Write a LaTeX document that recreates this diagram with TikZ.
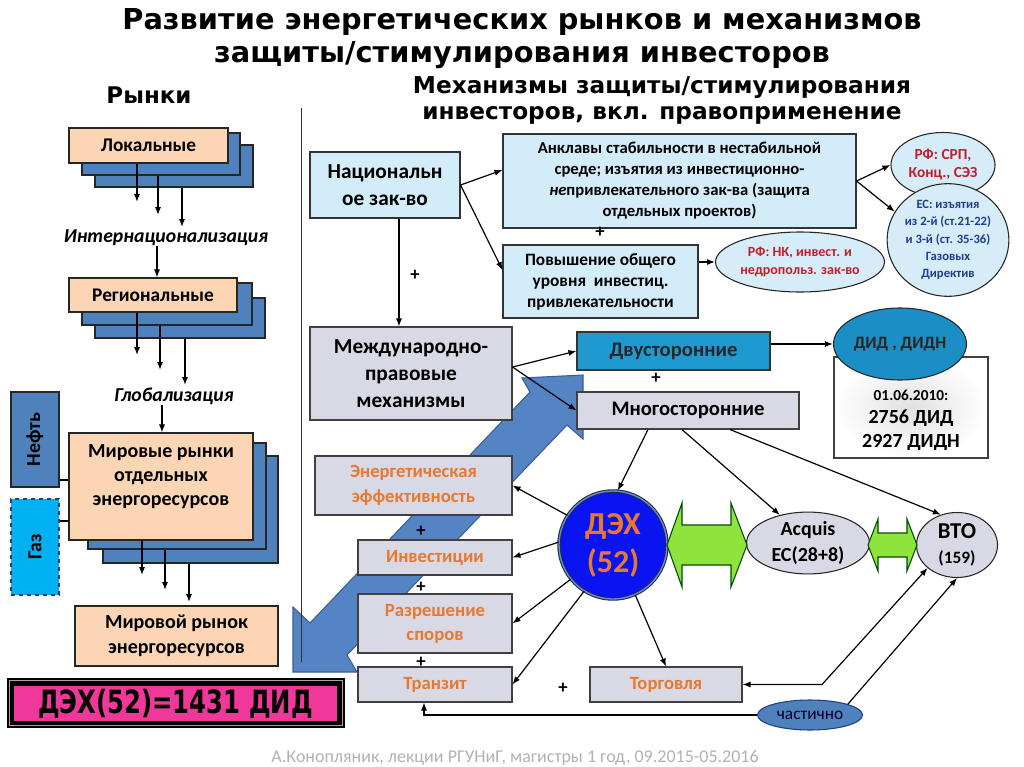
\documentclass[tikz,border=0pt]{standalone}
\usepackage{fontspec}
\setmainfont{Carlito}
\newfontfamily\dv{DejaVu Sans}
\usetikzlibrary{arrows.meta,shapes.geometric,calc}
\definecolor{tanc}{HTML}{FCD5B4}
\definecolor{stackc}{HTML}{4F81BD}
\definecolor{lblue}{HTML}{D3ECFA}
\definecolor{lellc}{HTML}{D6ECF8}
\definecolor{lav}{HTML}{D9D9E6}
\definecolor{tealb}{HTML}{1E9AD0}
\definecolor{didc}{HTML}{1B8EC5}
\definecolor{orng}{HTML}{E9782F}
\definecolor{dred}{HTML}{C0202A}
\definecolor{dblue}{HTML}{1F3E8C}
\definecolor{dexb}{HTML}{0A14F0}
\definecolor{limeg}{HTML}{8EE43C}
\definecolor{pinkc}{HTML}{F0389A}
\definecolor{gasc}{HTML}{00B0F0}
\definecolor{arrb}{HTML}{5584C4}
\definecolor{arrbd}{HTML}{3B5E8E}
\begin{document}
\begin{tikzpicture}[x=0.75pt,y=-0.75pt,
  every node/.style={inner sep=0pt},
  rbox/.style n args={4}{minimum width={(#3-#1)*0.75pt}, minimum height={(#4-#2)*0.75pt}, at={({(#1+#3)/2},{(#2+#4)/2})}},
  arr/.style={-{Latex[length=6pt,width=4.6pt]}, line width=0.9pt},
  darr/.style={{Latex[length=6pt,width=4.6pt]}-{Latex[length=6pt,width=4.6pt]}, line width=0.9pt},
  ln/.style={line width=0.9pt},
  stack/.style={draw=black!85, fill=stackc, line width=0.8pt},
  tanbox/.style={draw=black!85, fill=tanc, line width=0.8pt, align=center, font=\bfseries\fontsize{14.5}{18}\selectfont},
  lbbox/.style={draw=black!80, fill=lblue, line width=0.8pt, align=center},
  lavbox/.style={draw=black!75, fill=lav, line width=0.8pt, align=center},
  obox/.style={lavbox, text=orng, font=\bfseries\fontsize{14}{18.5}\selectfont},
  ell/.style={ellipse, draw=black!85, line width=0.8pt, align=center},
  ital/.style={font=\bfseries\itshape\fontsize{14.8}{17}\selectfont},
  plus/.style={font=\bfseries\fontsize{14}{16}\selectfont},
  greenarr/.style={fill=limeg, draw=black!70!green, line width=0.8pt},
]
\useasboundingbox (0,0) rectangle (1024,767);
\fill[white] (0,0) rectangle (1024,767);

% titles
\node[font=\dv\bfseries\fontsize{21.6}{25}\selectfont] (t1) at (522,22) {Развитие энергетических рынков и механизмов};
\node[font=\dv\bfseries\fontsize{21.6}{25}\selectfont] (t2) at (522,55) {защиты/стимулирования инвесторов};
\node[font=\dv\bfseries\fontsize{17.2}{20}\selectfont] (hm) at (149,95) {Рынки};
\node[font=\dv\bfseries\fontsize{17.4}{19.5}\selectfont, align=center] (hr) at (662,100) {Механизмы защиты/стимулирования\\инвесторов, вкл. правоприменение};

% ---------- left column ----------
\node[stack, rbox={95}{145}{253}{187}] (lok3) {};
\node[stack, rbox={82}{133}{240}{175}] (lok2) {};
\node[tanbox, rbox={69}{128}{228}{163}] (lok) {Локальные};
\coordinate (la1) at (137,202);
\coordinate (la2) at (158,215);
\coordinate (la3) at (182,227);
\draw[arr] (lok.south -| la1) -- (la1);
\draw[arr] (lok2.south -| la2) -- (la2);
\draw[arr] (lok3.south -| la3) -- (la3);
\node[ital] (intl) at (166,238) {Интернационализация};

\node[stack, rbox={95}{298}{265}{338}] (reg3) {};
\node[stack, rbox={82}{283}{252}{325}] (reg2) {};
\node[tanbox, rbox={69}{278}{237}{312}] (reg) {Региональные};
\draw[arr] (intl.south -| 157,0) -- (reg.north -| 157,0);
\coordinate (ra1) at (137,355);
\coordinate (ra2) at (160,370);
\coordinate (ra3) at (185,385);
\draw[arr] (reg.south -| ra1) -- (ra1);
\draw[arr] (reg2.south -| ra2) -- (ra2);
\draw[arr] (reg3.south -| ra3) -- (ra3);
\node[ital] (glob) at (174,396) {Глобализация};

\node[stack, rbox={103}{456}{278}{563}] (mir3) {};
\node[stack, rbox={88}{443}{266}{549}] (mir2) {};
\node[tanbox, rbox={69}{433}{253}{540}, font=\bfseries\fontsize{15}{18}\selectfont, text depth=17pt] (mir) {Мировые рынки\\отдельных\\энергоресурсов};
\draw[arr] (glob.south -| 162,0) -- (mir.north -| 162,0);
\coordinate (ma1) at (142,575);
\coordinate (ma2) at (165,590);
\coordinate (ma3) at (189,602);
\draw[arr] (mir.south -| ma1) -- (ma1);
\draw[arr] (mir2.south -| ma2) -- (ma2);
\draw[arr] (mir3.south -| ma3) -- (ma3);

\node[draw=black!85, fill=stackc, line width=0.8pt, rbox={11}{392}{59}{487}] (neft) {};
\node[rotate=90, font=\bfseries\fontsize{15}{18}\selectfont] (neftt) at (neft.center) {Нефть};
\node[draw=dblue, dashed, fill=gasc, line width=0.9pt, rbox={11}{499}{59}{595}] (gaz) {};
\node[rotate=90, font=\bfseries\fontsize{15}{18}\selectfont] (gazt) at (gaz.center) {Газ};
\draw[ln] (neft.east |- 0,480) -- (mir.west |- 0,480);
\draw[ln] (gaz.east |- 0,521) -- (mir.west |- 0,521);

\node[tanbox, rbox={75}{606}{278}{666}, font=\bfseries\fontsize{15}{18.5}\selectfont] (mirr) {Мировой рынок\\энергоресурсов};

\node[fill=black, rbox={7}{678}{345}{728}] (dexframe) {};
\draw[gray!70, line width=0.6pt] ($(dexframe.south west)+(2.5,-2.5)$) rectangle ($(dexframe.north east)+(-2.5,2.5)$);
\node[fill=pinkc, draw=black, line width=0.8pt, rbox={13}{685}{338}{722}, font=\dv\bfseries\fontsize{24}{28}\selectfont] (dexeq) {\scalebox{0.76}[1]{ДЭХ(52)=1431 ДИД}};

% ---------- big double arrow ----------
\draw[fill=arrb, draw=arrbd, line width=0.8pt] (583,375) -- (583,439) -- (567,425) -- (347,655) -- (357,672) -- (293,672) -- (293,607) -- (310,623) -- (530,392) -- (522,378) -- cycle;

% separator
\coordinate (sep1) at (301,108);
\coordinate (sep2) at (301,662);
\draw[line width=0.7pt, black!80] (sep1) -- (sep2);

% ---------- right part ----------
\node[lbbox, rbox={310}{152}{460}{218}, font=\bfseries\fontsize{16}{20}\selectfont] (nat) {Национальн\\ое зак-во};
\node[lbbox, rbox={503}{134}{856}{228}, font=\bfseries\fontsize{12.5}{15.75}\selectfont] (ankl) {Анклавы стабильности в нестабильной\\среде; изъятия из инвестиционно-\\\textit{не}привлекательного зак-ва (защита\\отдельных проектов)};
\node[lbbox, rbox={503}{245}{698}{318}, font=\bfseries\fontsize{13}{15.75}\selectfont] (pov) {Повышение общего\\уровня~~инвестиц.\\привлекательности};
\node[ell, fill=lellc, text=dred, minimum width=116.25pt, minimum height=45pt, font=\bfseries\fontsize{10.5}{13.5}\selectfont] (rfnk) at (800,262) {РФ: НК, инвест. и\\недропольз. зак-во};
\node[ell, fill=lellc, text=dred, minimum width=78pt, minimum height=48.75pt, font=\bfseries\fontsize{11.5}{13.5}\selectfont] (rfsrp) at (943,165) {РФ: СРП,\\Конц., СЭЗ};
\node[ell, fill=lellc, text=dblue, minimum width=87.75pt, minimum height=78pt, font=\bfseries\fontsize{9.5}{13}\selectfont] (es) at (948,240) {ЕС: изъятия\\из 2-й (ст.21-22)\\и 3-й (ст. 35-36)\\Газовых\\Директив};

\node[lavbox, rbox={310}{327}{512}{420}, font=\bfseries\fontsize{16}{20.5}\selectfont] (mezh) {Международно-\\правовые\\механизмы};
\node[draw=black!80, fill=tealb, line width=0.8pt, rbox={577}{332}{770}{370}, font=\bfseries\fontsize{15.5}{18}\selectfont, text=black!85] (dvu) {Двусторонние};
\node[lavbox, rbox={577}{392}{799}{429}, font=\bfseries\fontsize{15.5}{18}\selectfont] (mnogo) {Многосторонние};

\node[draw=black!75, line width=0.8pt, inner color=black!12, outer color=white, rbox={834}{357}{988}{458}] (didbox) {};
\node[align=center, font=\bfseries\fontsize{15}{17.5}\selectfont] (didt) at (911,420) {{\fontsize{11.5}{14}\selectfont 01.06.2010:}\\2756 ДИД\\2927 ДИДН};
\node[ell, fill=didc, minimum width=99.75pt, minimum height=54pt, font=\bfseries\fontsize{13}{16}\selectfont, text=black!85] (did) at (900,344) {ДИД , ДИДН};

\node[obox, rbox={315}{456}{512}{515}] (energ) {Энергетическая\\эффективность};
\node[obox, rbox={358}{540}{512}{575}] (invest) {Инвестиции};
\node[obox, rbox={358}{594}{512}{653}, font=\bfseries\fontsize{14}{18}\selectfont] (razr) {Разрешение\\споров};
\node[obox, rbox={358}{667}{512}{702}] (tranz) {Транзит};
\node[obox, rbox={590}{667}{742}{702}] (torg) {Торговля};

\node[circle, draw=dblue!70!black, double=dblue!60, double distance=1pt, line width=0.8pt, fill=dexb, minimum size=81pt, align=center, text=orng, font=\bfseries\fontsize{24}{28.5}\selectfont] (dex) at (613,545) {ДЭХ\\(52)};
\node[ell, fill=lav, minimum width=92.25pt, minimum height=45.75pt, font=\bfseries\fontsize{15}{20}\selectfont] (acq) at (808,543) {Acquis\\ЕС(28+8)};
\node[ell, fill=lav, minimum width=60.75pt, minimum height=48.75pt, font=\bfseries\fontsize{17}{20}\selectfont] (vto) at (957,545) {ВТО\\[-1pt]{\fontsize{13}{15}\selectfont (159)}};
\node[ell, fill=stackc, draw=dblue, minimum width=78.75pt, minimum height=22.5pt, font=\fontsize{13}{15}\selectfont, text=black!85!blue] (chast) at (810,715) {частично};

% green double arrows
\draw[greenarr] (667,545) -- (682,503) -- (682,525) -- (731,525) -- (731,503) -- (747,545) -- (731,587) -- (731,565) -- (682,565) -- (682,587) -- cycle;
\draw[greenarr] (868,545) -- (878,519) -- (878,533) -- (907,533) -- (907,519) -- (917,545) -- (907,571) -- (907,557) -- (878,557) -- (878,571) -- cycle;

% connectors
\draw[arr] (nat.east) -- (ankl.west |- 0,170);
\draw[arr] (nat.east) -- (pov.west |- 0,270);
\draw[arr] (nat.south -| 399,0) -- (mezh.north -| 399,0);
\draw[arr] (pov.east |- rfnk.west) -- (rfnk.west);
\draw[arr] (ankl.east) -- (rfsrp.west);
\draw[arr] (ankl.east) -- (es.152);
\draw[arr] (mezh.east |- 0,367) -- (dvu.west);
\draw[arr] (mezh.east |- 0,367) -- (mnogo.west);
\draw[arr] (dvu.east |- did.west) -- (did.west);
\draw[arr] (mnogo.south -| 648,0) -- (dex.85);
\draw[arr] (mnogo.south -| 682,0) -- (acq.135);
\draw[arr] (mnogo.south -| 730,0) -- (vto.118);
\draw[arr] (dex.147) -- (energ.east);
\draw[arr] (dex.177) -- (invest.east);
\draw[arr] (dex.219) -- (razr.east);
\draw[arr] (dex.238) -- (tranz.east);
\draw[arr] (dex.294) -- (torg.north);
\coordinate (k1) at (822,0);
\draw[darr] (torg.east) -- (torg.east -| k1) -- (vto.218);
\draw[arr] (chast.16) -- (vto.south);
\coordinate (k2) at (424,0);
\draw[arr] (chast.west) -| (tranz.south -| k2);

% plus signs
\node[plus] (p1) at (415,275) {+};
\node[plus] (p2) at (600,232) {+};
\node[plus] (p3) at (656,378) {+};
\node[plus] (p4) at (421,531) {+};
\node[plus] (p5) at (421,587) {+};
\node[plus] (p6) at (421,662) {+};
\node[plus] (p7) at (563,688) {+};

% footer
\node[anchor=base, text=black!30, font=\fontsize{13.5}{16}\selectfont] (foot) at (515,762) {А.Конопляник, лекции РГУНиГ, магистры 1 год, 09.2015-05.2016};
\end{tikzpicture}
\end{document}
